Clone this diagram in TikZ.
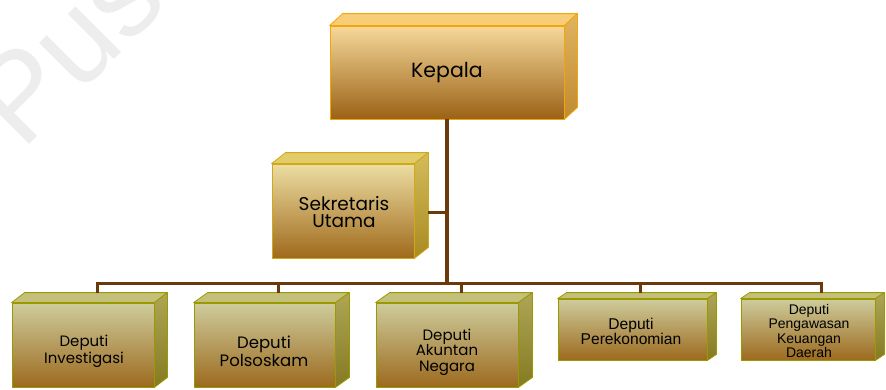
\documentclass[tikz,border=0pt]{standalone}
\usepackage{fontspec}
\newfontfamily\comicf{Poppins}
\newfontfamily\arialf{Liberation Sans}
\definecolor{lnk}{HTML}{6B3A0A}
\definecolor{kepFT}{HTML}{F6D89A}
\definecolor{kepFB}{HTML}{9A6216}
\definecolor{kepTop}{HTML}{F8CD78}
\definecolor{kepST}{HTML}{E0B460}
\definecolor{kepSB}{HTML}{C08A30}
\definecolor{kepB}{HTML}{F2A60A}
\definecolor{sekFT}{HTML}{ECDDA2}
\definecolor{sekFB}{HTML}{A06A1C}
\definecolor{sekTop}{HTML}{E2CC6A}
\definecolor{sekST}{HTML}{D4BC5A}
\definecolor{sekSB}{HTML}{A88A20}
\definecolor{sekB}{HTML}{D0A818}
\definecolor{depFT}{HTML}{CECC9C}
\definecolor{depFB}{HTML}{9C6A1E}
\definecolor{depTop}{HTML}{C4C07C}
\definecolor{depST}{HTML}{AEA656}
\definecolor{depSB}{HTML}{857A22}
\definecolor{depB}{HTML}{999900}
\newcommand\cubefaces[7]{%
  \filldraw[draw=#7, line width=0.8pt, fill=#4, line join=round]
    (#1.north west) -- ([shift={(#2,-#3)}]#1.north west)
    -- ([shift={(#2,-#3)}]#1.north east) -- (#1.north east) -- cycle;
  \shadedraw[draw=#7, line width=0.8pt, top color=#5, bottom color=#6, line join=round]
    (#1.north east) -- ([shift={(#2,-#3)}]#1.north east)
    -- ([shift={(#2,-#3)}]#1.south east) -- (#1.south east) -- cycle;
}
\begin{document}
\begin{tikzpicture}[x=1pt,y=-1pt,
  face/.style={draw=#1, line width=0.8pt, inner sep=0pt},
  conn/.style={draw=lnk, line width=3.5pt},
  lbl/.style={align=center, inner sep=0pt, text=black}]
\clip (0,0) rectangle (886,389);
\fill[white] (0,0) rectangle (886,389);
% watermark
\node[anchor=base west, rotate=45, text=gray!14, inner sep=0pt,
  font=\arialf\fontsize{122}{122}\selectfont] (wm) at (22,152) {Pus};

% Kepala
\node[face=kepB, top color=kepFT, bottom color=kepFB, minimum width=234pt, minimum height=93pt,
  lbl, font=\comicf\fontsize{20.5}{24}\selectfont] (kep) at (447,72.5) {Kepala};
\cubefaces{kep}{13}{12}{kepTop}{kepST}{kepSB}{kepB}

% Sekretaris
\node[face=sekB, top color=sekFT, bottom color=sekFB, minimum width=142pt, minimum height=94pt]
  (sek) at (343,211) {};
\cubefaces{sek}{14}{11}{sekTop}{sekST}{sekSB}{sekB}
\node[lbl, font=\comicf\fontsize{18.5}{17.5}\selectfont] (sekt) at (344,212) {Sekretaris\\Utama};

% Deputi boxes
\node[face=depB, top color=depFT, bottom color=depFB, minimum width=142pt, minimum height=84pt]
  (b1) at (83,345) {};
\cubefaces{b1}{13}{10}{depTop}{depST}{depSB}{depB}
\node[lbl, font=\comicf\fontsize{15}{17}\selectfont] (t1) at (84,351) {Deputi\\Investigasi};

\node[face=depB, top color=depFT, bottom color=depFB, minimum width=141pt, minimum height=84pt]
  (b2) at (264.5,345) {};
\cubefaces{b2}{14}{10}{depTop}{depST}{depSB}{depB}
\node[lbl, font=\comicf\fontsize{16.5}{18}\selectfont] (t2) at (264,351) {Deputi\\Polsoskam};

\node[face=depB, top color=depFT, bottom color=depFB, minimum width=142pt, minimum height=84pt]
  (b3) at (447,345) {};
\cubefaces{b3}{14}{10}{depTop}{depST}{depSB}{depB}
\node[lbl, font=\comicf\fontsize{15}{15.5}\selectfont] (t3) at (447,352) {Deputi\\Akuntan\\Negara};

\node[face=depB, top color=depFT, bottom color=depFB, minimum width=149pt, minimum height=61pt]
  (b4) at (632.5,329.5) {};
\cubefaces{b4}{9}{6}{depTop}{depST}{depSB}{depB}
\node[lbl, font=\arialf\fontsize{15.6}{15}\selectfont] (t4) at (631,331) {Deputi\\Perekonomian};

\node[face=depB, top color=depFT, bottom color=depFB, minimum width=134pt, minimum height=61pt]
  (b5) at (808,329.5) {};
\cubefaces{b5}{9}{6}{depTop}{depST}{depSB}{depB}
\node[lbl, font=\arialf\fontsize{14}{14.5}\selectfont] (t5) at (809,331) {Deputi\\Pengawasan\\Keuangan\\Daerah};

% connectors
\coordinate (bus1) at (97,283);
\coordinate (bus2) at (278,283);
\coordinate (bus3) at (461,283);
\coordinate (bus4) at (640,283);
\coordinate (bus5) at (821,283);
\coordinate (sekR) at (428,212);
\draw[conn, line width=4pt] (kep.south) -- (kep.south |- bus1);
\draw[conn, line width=3pt] (sekR) -- (sekR -| kep.south);
\draw[conn, line width=3pt, line cap=rect] (bus1) -- (bus5);
\draw[conn, line width=3pt] (bus1) -- ++(0,10);
\draw[conn, line width=3pt] (bus2) -- ++(0,10);
\draw[conn, line width=3pt] (bus3) -- ++(0,10);
\draw[conn, line width=3pt] (bus4) -- ++(0,10);
\draw[conn, line width=3pt] (bus5) -- ++(0,10);
\end{tikzpicture}
\end{document}
